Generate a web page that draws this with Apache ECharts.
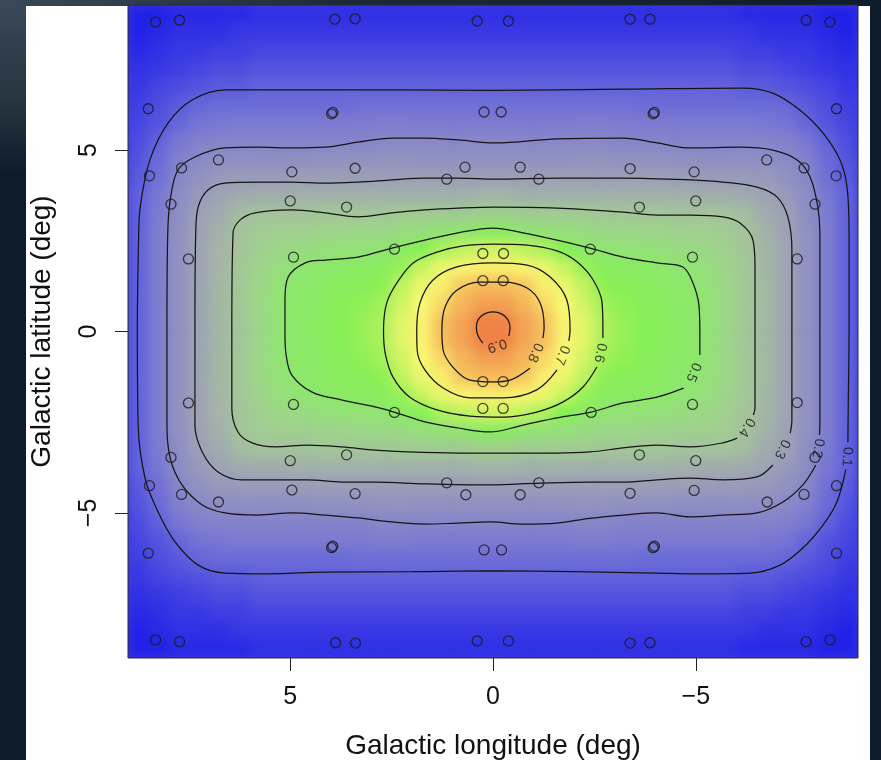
<!DOCTYPE html>
<html>
<head>
<meta charset="utf-8">
<script src="https://cdn.jsdelivr.net/npm/echarts@6/dist/echarts.min.js"></script>
<style>
html,body{margin:0;padding:0;background:#0d1b2b;}
#page{position:relative;width:881px;height:760px;overflow:hidden;background:#0d1b2b;}
#glow{position:absolute;left:0;top:0;width:26px;height:175px;background:linear-gradient(#3a4858,#26333f 60%,#0d1b2b);}
#topstrip{position:absolute;left:0;top:0;width:881px;height:6px;background:linear-gradient(90deg,#3a4858,#1c2a38 40%,#0f1c2b);}
#panel{position:absolute;left:26px;top:6px;width:844px;height:754px;background:#ffffff;}
#heatclip{position:absolute;left:128px;top:5px;width:730px;height:653px;overflow:hidden;background:#3a3ae0;}
#heat{position:absolute;left:0;top:0;width:730px;height:653px;filter:blur(6px);}
#c{position:absolute;left:0;top:0;width:881px;height:760px;}
</style>
</head>
<body>
<div id="page">
  <div id="glow"></div>
  <div id="topstrip"></div>
  <div id="panel"></div>
  <div id="heatclip"><div id="heat"></div></div>
  <div id="c"></div>
</div>
<script>
// ---------- data ----------
// cell centres (deg), left -> right for longitude, bottom -> top for latitude
const lonCenters = [8.75,8.25,7.75,7.25,6.75,6.25,5.75,5.25,4.75,4.25,3.75,3.25,2.75,2.25,1.75,1.25,0.75,0.25,
  -0.25,-0.75,-1.25,-1.75,-2.25,-2.75,-3.25,-3.75,-4.25,-4.75,-5.25,-5.75,-6.25,-6.75,-7.25,-7.75,-8.25,-8.75];
const latCenters = [-8.75,-8.25,-7.75,-7.25,-6.75,-6.25,-5.75,-5.25,-4.75,-4.25,-3.75,-3.25,-2.75,-2.25,-1.75,-1.25,-0.75,-0.25,
  0.25,0.75,1.25,1.75,2.25,2.75,3.25,3.75,4.25,4.75,5.25,5.75,6.25,6.75,7.25,7.75,8.25,8.75];

// field values x100, rows from top (b=8.75) to bottom (b=-8.75), columns left (l=8.75) to right (l=-8.75)
const fieldRows = [
[1,1,2,2,2,2,3,3,3,3,3,3,3,3,3,3,3,3,3,3,3,3,3,3,3,3,3,3,3,3,2,2,2,2,1,1],
[1,2,3,3,3,4,4,4,4,4,4,4,4,4,4,4,4,4,4,4,4,4,4,4,4,4,4,4,4,4,4,3,3,3,2,1],
[2,3,4,4,5,5,6,6,6,6,6,6,6,6,6,6,6,6,6,6,6,6,6,6,6,6,6,6,6,6,5,5,4,4,3,2],
[3,4,5,6,7,7,8,8,8,8,8,8,8,8,8,8,8,8,8,8,8,8,8,8,8,8,8,8,8,8,7,7,6,5,4,3],
[4,6,7,8,9,9,10,10,10,10,10,10,10,10,10,10,10,10,10,10,10,10,10,10,10,10,10,10,10,10,9,9,8,7,6,4],
[5,7,9,11,12,12,12,12,12,12,12,13,13,13,13,13,13,13,13,13,13,13,13,13,13,12,12,12,12,12,12,12,11,9,7,5],
[6,8,11,14,15,16,16,16,16,16,16,16,17,17,16,16,16,16,16,16,16,16,17,17,16,16,16,16,16,16,16,15,14,11,8,6],
[7,10,15,18,19,19,19,19,19,19,19,19,20,20,20,20,20,20,20,20,20,20,20,20,19,19,19,19,19,19,19,19,18,15,10,7],
[8,12,18,21,23,23,23,23,23,24,24,24,25,25,24,24,24,24,24,24,24,24,25,25,24,24,24,23,23,23,23,23,21,18,12,8],
[9,13,20,24,27,28,28,28,29,29,29,29,29,29,29,29,29,29,29,29,29,29,29,29,29,29,29,29,28,28,28,27,24,20,13,9],
[10,15,22,27,31,33,34,34,35,35,35,35,35,35,35,35,35,36,36,35,35,35,35,35,35,35,35,35,34,34,33,31,27,22,15,10],
[10,16,23,30,33,38,40,40,40,41,41,41,41,42,42,42,42,43,43,42,42,42,42,41,41,41,41,40,40,40,38,33,30,23,16,10],
[10,17,24,30,35,40,42,43,43,44,44,45,45,46,47,48,49,52,52,49,48,47,46,45,45,44,44,43,43,42,40,35,30,24,17,10],
[10,17,24,31,36,40,43,45,46,47,48,48,49,51,55,59,61,63,63,61,59,55,51,49,48,48,47,46,45,43,40,36,31,24,17,10],
[10,17,24,31,36,41,44,47,49,50,51,52,53,57,62,67,71,72,72,71,67,62,57,53,52,51,50,49,47,44,41,36,31,24,17,10],
[10,17,24,31,37,41,45,48,50,51,53,54,56,61,67,72,79,81,81,79,72,67,61,56,54,53,51,50,48,45,41,37,31,24,17,10],
[10,17,24,31,37,41,45,49,51,52,54,56,58,63,70,76,82,86,86,82,76,70,63,58,56,54,52,51,49,45,41,37,31,24,17,10],
[10,17,24,31,37,41,45,49,51,53,55,57,59,65,71,80,85,92,92,85,80,71,65,59,57,55,53,51,49,45,41,37,31,24,17,10],
[10,17,24,31,37,41,45,49,51,53,55,57,59,65,71,80,85,92,92,85,80,71,65,59,57,55,53,51,49,45,41,37,31,24,17,10],
[10,17,24,31,37,41,45,49,51,52,54,56,58,63,70,76,82,86,86,82,76,70,63,58,56,54,52,51,49,45,41,37,31,24,17,10],
[10,17,24,31,37,41,45,48,50,51,53,54,56,61,67,72,79,81,81,79,72,67,61,56,54,53,51,50,48,45,41,37,31,24,17,10],
[10,17,24,31,36,41,44,47,49,50,51,52,53,57,62,67,71,72,72,71,67,62,57,53,52,51,50,49,47,44,41,36,31,24,17,10],
[10,17,24,31,36,40,43,45,46,47,48,48,49,51,55,59,61,63,63,61,59,55,51,49,48,48,47,46,45,43,40,36,31,24,17,10],
[10,17,24,30,35,40,42,43,43,44,44,45,45,46,47,48,49,52,52,49,48,47,46,45,45,44,44,43,43,42,40,35,30,24,17,10],
[10,16,23,30,33,38,40,40,40,41,41,41,41,42,42,42,42,43,43,42,42,42,42,41,41,41,41,40,40,40,38,33,30,23,16,10],
[10,15,22,27,31,33,34,34,35,35,35,35,35,35,35,35,35,36,36,35,35,35,35,35,35,35,35,35,34,34,33,31,27,22,15,10],
[9,13,20,24,27,28,28,28,29,29,29,29,29,29,29,29,29,29,29,29,29,29,29,29,29,29,29,29,28,28,28,27,24,20,13,9],
[8,12,18,21,23,23,23,23,23,24,24,24,25,25,24,24,24,24,24,24,24,24,25,25,24,24,24,23,23,23,23,23,21,18,12,8],
[7,10,15,18,19,19,19,19,19,19,19,19,20,20,20,20,20,20,20,20,20,20,20,20,19,19,19,19,19,19,19,19,18,15,10,7],
[6,8,11,14,15,16,16,16,16,16,16,16,17,17,16,16,16,16,16,16,16,16,17,17,16,16,16,16,16,16,16,15,14,11,8,6],
[5,7,9,11,12,12,12,12,12,12,12,13,13,13,13,13,13,13,13,13,13,13,13,13,13,12,12,12,12,12,12,12,11,9,7,5],
[4,6,7,8,9,9,10,10,10,10,10,10,10,10,10,10,10,10,10,10,10,10,10,10,10,10,10,10,10,10,9,9,8,7,6,4],
[3,4,5,6,7,7,8,8,8,8,8,8,8,8,8,8,8,8,8,8,8,8,8,8,8,8,8,8,8,8,7,7,6,5,4,3],
[2,3,4,4,5,5,6,6,6,6,6,6,6,6,6,6,6,6,6,6,6,6,6,6,6,6,6,6,6,6,5,5,4,4,3,2],
[1,2,3,3,3,4,4,4,4,4,4,4,4,4,4,4,4,4,4,4,4,4,4,4,4,4,4,4,4,4,4,3,3,3,2,1],
[1,1,2,2,2,2,3,3,3,3,3,3,3,3,3,3,3,3,3,3,3,3,3,3,3,3,3,3,3,3,2,2,2,2,1,1]
];

// contour lines [longitude, latitude]
const contour01 = [[-8.70,-3.80],[-8.48,-4.70],[-8.14,-5.33],[-7.64,-5.97],[-7.08,-6.44],[-6.34,-6.66],[-5.00,-6.68],[-4.04,-6.66],[-2.00,-6.62],[0.07,-6.60],[2.00,-6.62],[4.14,-6.63],[5.60,-6.68],[6.61,-6.66],[7.27,-6.44],[7.84,-5.80],[8.26,-4.97],[8.58,-4.04],[8.75,-2.58],[8.77,0.00],[8.74,2.50],[8.70,3.43],[8.46,4.73],[8.01,5.75],[7.42,6.38],[6.61,6.66],[4.76,6.66],[2.29,6.66],[0.00,6.65],[-3.21,6.68],[-6.16,6.71],[-6.90,6.57],[-7.57,6.10],[-8.14,5.47],[-8.56,4.72],[-8.73,3.98],[-8.78,2.71],[-8.78,0.00],[-8.76,-2.00],[-8.75,-3.05]];
const contour02 = [[-7.96,-3.68],[-7.64,-4.23],[-7.15,-4.70],[-6.51,-5.00],[-5.67,-5.06],[-4.86,-5.11],[-4.04,-5.00],[-3.21,-5.06],[-2.39,-5.15],[-1.58,-5.28],[-0.74,-5.31],[0.07,-5.25],[0.86,-5.28],[1.68,-5.31],[2.49,-5.25],[3.33,-5.14],[4.14,-5.06],[4.96,-5.00],[5.79,-5.06],[6.61,-5.00],[7.17,-4.78],[7.67,-4.23],[7.96,-3.49],[8.04,-2.58],[8.04,0.18],[8.02,2.71],[7.96,3.62],[7.77,4.45],[7.35,4.81],[6.61,5.06],[5.79,5.08],[4.96,5.06],[4.14,5.08],[3.33,5.22],[2.49,5.33],[1.68,5.33],[0.86,5.28],[-0.05,5.20],[-1.58,5.31],[-3.21,5.33],[-4.04,5.20],[-4.86,5.06],[-6.09,5.08],[-6.90,5.00],[-7.50,4.73],[-7.82,4.26],[-8.01,3.43],[-8.06,2.71],[-8.06,0.18],[-8.06,-2.58],[-8.05,-2.85]];
const contour03 = [[-6.90,-3.68],[-6.51,-4.01],[-5.67,-4.09],[-4.86,-4.04],[-4.04,-4.09],[-3.21,-4.15],[-2.39,-4.15],[-1.16,-4.18],[0.07,-4.23],[1.68,-4.20],[2.91,-4.15],[3.72,-4.15],[4.56,-4.09],[5.37,-4.09],[6.19,-4.09],[6.78,-3.87],[7.17,-3.32],[7.35,-2.58],[7.35,0.18],[7.33,2.71],[7.27,3.43],[7.03,3.90],[6.61,4.09],[5.79,4.12],[4.96,4.12],[4.14,4.09],[3.33,4.12],[2.49,4.18],[1.68,4.23],[0.86,4.23],[-0.05,4.20],[-1.58,4.23],[-3.21,4.23],[-4.86,4.18],[-5.67,4.12],[-6.51,3.98],[-7.00,3.71],[-7.27,3.16],[-7.37,2.25],[-7.37,0.18],[-7.37,-2.44],[-7.33,-2.80]];
const contour04 = [[-6.02,-2.94],[-5.67,-3.07],[-4.86,-3.18],[-4.04,-3.13],[-3.21,-3.21],[-2.39,-3.32],[-1.58,-3.35],[-0.74,-3.35],[0.07,-3.35],[0.86,-3.35],[2.10,-3.32],[2.91,-3.27],[3.72,-3.18],[4.56,-3.13],[5.37,-3.18],[5.94,-3.07],[6.29,-2.77],[6.44,-2.11],[6.44,0.18],[6.41,2.71],[6.24,3.07],[5.87,3.27],[4.96,3.35],[4.14,3.27],[3.33,3.16],[2.49,3.27],[1.68,3.35],[0.86,3.40],[-0.05,3.43],[-1.58,3.40],[-3.21,3.29],[-4.04,3.21],[-4.86,3.21],[-5.67,3.16],[-6.09,2.99],[-6.41,2.52],[-6.46,1.78],[-6.46,-0.04],[-6.46,-2.11],[-6.42,-2.30]];
const contour05 = [[-4.70,-1.56],[-4.04,-1.81],[-3.21,-1.97],[-2.42,-2.22],[-1.58,-2.38],[-0.74,-2.58],[0.07,-2.77],[0.86,-2.66],[1.68,-2.49],[2.44,-2.22],[2.91,-2.08],[3.72,-1.89],[4.46,-1.67],[4.96,-1.20],[5.10,-0.65],[5.13,-0.04],[5.13,0.87],[5.05,1.50],[4.63,1.89],[4.14,1.97],[3.33,2.05],[2.49,2.30],[1.68,2.52],[0.86,2.72],[0.00,2.85],[-0.74,2.72],[-1.58,2.52],[-2.39,2.30],[-3.21,2.05],[-4.04,1.89],[-4.68,1.78],[-4.93,1.34],[-5.08,0.70],[-5.10,-0.04],[-5.10,-0.65]];
const contour06 = [[-2.56,-0.98],[-2.22,-1.53],[-1.73,-1.94],[-1.08,-2.22],[-0.25,-2.36],[0.57,-2.33],[1.38,-2.16],[2.05,-1.81],[2.47,-1.25],[2.66,-0.59],[2.70,0.04],[2.62,0.79],[2.37,1.34],[1.97,1.89],[1.38,2.19],[0.74,2.36],[0.00,2.41],[-0.84,2.38],[-1.58,2.22],[-2.07,1.92],[-2.47,1.42],[-2.69,0.79],[-2.71,0.04],[-2.71,-0.18]];
const contour07 = [[-1.58,-1.06],[-1.08,-1.61],[-0.25,-1.83],[0.57,-1.83],[1.23,-1.56],[1.68,-1.06],[1.87,-0.51],[1.88,0.04],[1.80,0.79],[1.48,1.42],[0.89,1.78],[0.00,1.89],[-0.84,1.83],[-1.41,1.50],[-1.82,0.87],[-1.90,0.04],[-1.87,-0.26]];
const contour08 = [[-0.91,-1.01],[-0.42,-1.34],[0.00,-1.39],[0.57,-1.34],[0.99,-0.98],[1.23,-0.51],[1.26,0.04],[1.18,0.68],[0.89,1.14],[0.32,1.36],[-0.25,1.36],[-0.84,1.20],[-1.16,0.79],[-1.26,0.12],[-1.23,-0.18]];
const contour09 = [[0.25,-0.32],[0.37,-0.12],[0.41,0.10],[0.37,0.32],[0.22,0.48],[0.00,0.54],[-0.22,0.48],[-0.37,0.32],[-0.42,0.10],[-0.39,-0.12]];
const contourLines = [contour01,contour02,contour03,contour04,contour05,contour06,contour07,contour08,contour09];

// contour labels: [longitude, latitude, text, angle]
const contourLabels = [[-8.73,-3.45,'0.1',-93],[-8.01,-3.22,'0.2',-100],[-7.13,-3.24,'0.3',-115],[-6.25,-2.64,'0.4',-121],
  [-4.94,-1.12,'0.5',-111],[-2.64,-0.59,'0.6',-102],[-1.70,-0.65,'0.7',-112],[-1.04,-0.58,'0.8',-113],[-0.10,-0.38,'0.9',-163]];

// pointing positions [longitude, latitude]
const pointings = [
[8.32,8.53],[7.73,8.58],[3.90,8.61],[3.40,8.62],[0.39,8.56],[-0.38,8.56],[-3.38,8.61],[-3.87,8.61],[-7.72,8.58],[-8.31,8.53],
[8.50,6.14],[3.98,6.00],[3.95,6.04],[0.22,6.05],[-0.20,6.05],[-3.95,6.00],[-3.98,6.04],[-8.47,6.14],
[8.47,4.29],[7.68,4.51],[6.77,4.73],[4.96,4.40],[3.40,4.50],[1.14,4.20],[0.69,4.53],[-0.67,4.53],[-1.13,4.20],[-3.38,4.49],[-4.96,4.40],[-6.75,4.73],[-7.67,4.51],[-8.46,4.29],
[7.94,3.51],[5.00,3.60],[3.61,3.43],[-3.61,3.43],[-5.00,3.60],[-7.94,3.51],
[7.51,2.00],[4.92,2.05],[2.43,2.27],[0.25,2.15],[-0.26,2.15],[-2.40,2.27],[-4.92,2.05],[-7.50,2.00],
[0.25,1.40],[-0.25,1.40],[0.25,-1.38],[-0.25,-1.38],
[7.51,-1.97],[4.92,-2.01],[2.43,-2.23],[0.25,-2.12],[-0.25,-2.12],[-2.42,-2.23],[-4.92,-2.01],[-7.50,-1.96],
[7.94,-3.47],[5.00,-3.56],[3.61,-3.40],[-3.61,-3.40],[-5.00,-3.56],[-7.94,-3.47],
[8.47,-4.25],[7.68,-4.49],[6.77,-4.70],[4.96,-4.37],[3.40,-4.47],[1.14,-4.17],[0.67,-4.50],[-0.67,-4.50],[-1.13,-4.17],[-3.38,-4.46],[-4.96,-4.38],[-6.76,-4.70],[-7.67,-4.49],[-8.47,-4.25],
[8.50,-6.11],[3.98,-5.96],[3.95,-5.92],[0.22,-6.02],[-0.21,-6.02],[-3.95,-5.96],[-3.98,-5.92],[-8.47,-6.11],
[8.32,-8.50],[7.73,-8.55],[3.88,-8.58],[3.39,-8.59],[0.39,-8.53],[-0.38,-8.53],[-3.38,-8.59],[-3.87,-8.58],[-7.72,-8.55],[-8.31,-8.50]
];

const lonTicks = [5, 0, -5];
const latTicks = [-5, 0, 5];
const rampColors = ['#1a1ae8','#3f3fe3','#6262dc','#7878d3','#8787c9','#9393bf','#9da1b5','#a2b1a9','#a5c39b','#9cd787',
  '#8de86b','#84f053','#b6f25d','#e2f668','#f9f972','#f8dd67','#f6c05c','#f4a453','#f18a48','#ee7640','#ec683a'];

// ---------- heatmap (own layer, softened by CSS blur) ----------
const heatData = [];
for (let r = 0; r < fieldRows.length; r++) {
  for (let c = 0; c < fieldRows[r].length; c++) {
    heatData.push([c, fieldRows.length - 1 - r, fieldRows[r][c]]);
  }
}
const heatChart = echarts.init(document.getElementById('heat'), null, {renderer: 'canvas'});
heatChart.setOption({
  animation: false,
  visualMap: {type: 'continuous', show: false, min: 0, max: 100, inRange: {color: rampColors}},
  grid: {left: 0, top: 0, right: 0, bottom: 0, outerBoundsMode: 'none'},
  xAxis: {type: 'category', data: lonCenters.map(String), show: false},
  yAxis: {type: 'category', data: latCenters.map(String), show: false},
  series: [{type: 'heatmap', data: heatData, itemStyle: {borderWidth: 0}, emphasis: {disabled: true}, progressive: 0}]
});

// ---------- axes, contours, pointings ----------
const fmt = v => (v < 0 ? '\u2212' + (-v) : String(v));
const FONT = 'Liberation Sans, Arial, Helvetica, sans-serif';

const series = [];
contourLines.forEach(line => {
  series.push({
    type: 'line', data: line, symbol: 'none', smooth: 0.35,
    lineStyle: {color: '#151515', width: 1.25}, z: 5, silent: true
  });
});
series.push({
  type: 'scatter', data: pointings, symbol: 'circle', symbolSize: 10,
  itemStyle: {color: 'rgba(0,0,0,0)', borderColor: '#1a1a1a', borderWidth: 1.3}, z: 6, silent: true
});
series.push({
  type: 'scatter', symbolSize: 1, z: 7, silent: true,
  itemStyle: {color: 'rgba(0,0,0,0)'},
  data: contourLabels.map(d => ({value: [d[0], d[1]], name: d[2], label: {rotate: d[3]}})),
  label: {show: true, position: 'inside', formatter: '{b}', color: '#151515', fontSize: 14, fontFamily: FONT}
});

const chart = echarts.init(document.getElementById('c'), null, {renderer: 'canvas'});
chart.setOption({
  animation: false,
  backgroundColor: 'transparent',
  graphic: [
    {type: 'rect', z: 100, silent: true, shape: {x: 128, y: 5, width: 730, height: 653},
     style: {fill: 'none', stroke: '#2a2a2a', lineWidth: 1}}
  ],
  grid: {left: 128, top: 5, width: 730, height: 653, show: false, outerBoundsMode: 'none', containLabel: false},
  xAxis: {type: 'value', min: -9, max: 9, inverse: true, position: 'bottom',
    axisLine: {show: false, onZero: false}, splitLine: {show: false},
    axisTick: {show: true, customValues: lonTicks, length: 13, lineStyle: {color: '#222', width: 1}},
    axisLabel: {show: true, customValues: lonTicks, formatter: fmt, fontSize: 25, color: '#111', fontFamily: FONT, margin: 27},
    name: 'Galactic longitude (deg)', nameLocation: 'middle', nameGap: 74,
    nameTextStyle: {fontSize: 28, color: '#111', fontFamily: FONT}},
  yAxis: {type: 'value', min: -9, max: 9, position: 'left',
    axisLine: {show: false, onZero: false}, splitLine: {show: false},
    axisTick: {show: true, customValues: latTicks, length: 13, lineStyle: {color: '#222', width: 1}},
    axisLabel: {show: true, customValues: latTicks, formatter: fmt, rotate: 90, fontSize: 25, color: '#111', fontFamily: FONT, margin: 26},
    name: 'Galactic latitude (deg)', nameLocation: 'middle', nameGap: 72, nameRotate: 90,
    nameTextStyle: {fontSize: 28, color: '#111', fontFamily: FONT}},
  series: series
});
</script>
</body>
</html>
